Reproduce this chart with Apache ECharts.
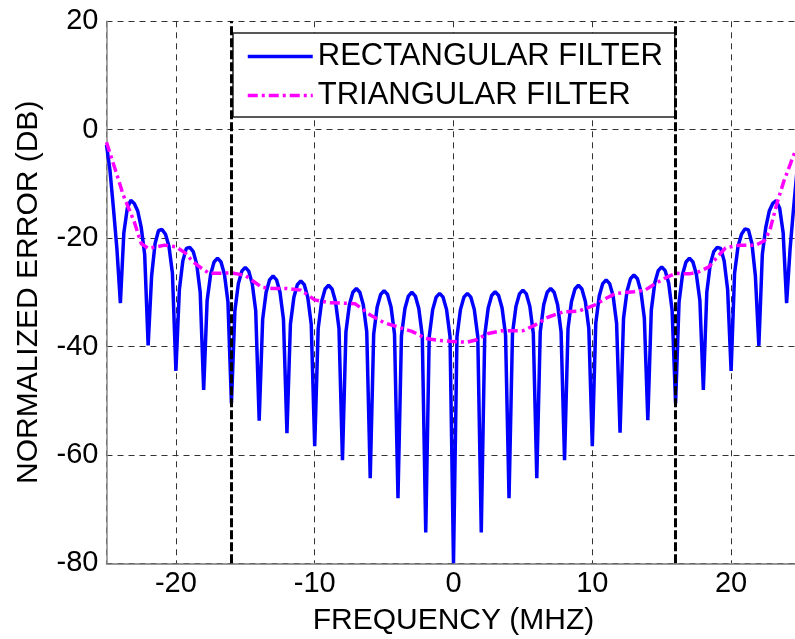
<!DOCTYPE html>
<html>
<head>
<meta charset="utf-8">
<script src="https://cdn.jsdelivr.net/npm/echarts@6/dist/echarts.min.js"></script>
<style>
html,body{margin:0;padding:0;background:#fff;}
#chart{width:795px;height:639px;}
</style>
</head>
<body>
<div id="chart"></div>
<script>
// ---- data ----
const seriesNames = ['RECTANGULAR FILTER', 'TRIANGULAR FILTER'];
const xAxisTitle = 'FREQUENCY (MHZ)';
const yAxisTitle = 'NORMALIZED ERROR (DB)';
const boundaryFreqs = [-16, 16];

// [frequency (MHz), normalized error (dB)]
const rectangularFilter = [
  [-25,-2.8],[-24.75,-7.5],[-24.5,-14.5],[-24.25,-22],[-24,-32],
  [-23.75,-19],[-23.5,-14.5],[-23.25,-13],[-23,-13.6],[-22.75,-15],[-22.5,-18],[-22.25,-23],[-22,-39.8],
  [-21.75,-27],[-21.5,-21],[-21.25,-18.6],[-21,-18.4],[-20.75,-19.3],[-20.5,-21.5],[-20.25,-26.5],[-20,-44.5],
  [-19.75,-29.5],[-19.5,-24.2],[-19.25,-21.9],[-19,-21.7],[-18.75,-22.5],[-18.5,-24.8],[-18.25,-30],[-18,-48],
  [-17.75,-31.5],[-17.5,-26.7],[-17.25,-24.4],[-17,-23.7],[-16.75,-24.4],[-16.5,-26.7],[-16.25,-31.8],[-16,-50.5],
  [-15.75,-33.4],[-15.5,-28.4],[-15.25,-26.1],[-15,-25.4],[-14.75,-26.1],[-14.5,-28.4],[-14.25,-33.4],[-14,-53.7],
  [-13.75,-35],[-13.5,-30],[-13.25,-27.7],[-13,-27],[-12.75,-27.7],[-12.5,-30],[-12.25,-35],[-12,-56],
  [-11.75,-35.9],[-11.5,-30.9],[-11.25,-28.6],[-11,-27.9],[-10.75,-28.6],[-10.5,-30.9],[-10.25,-35.9],[-10,-58.4],
  [-9.75,-36.7],[-9.5,-31.7],[-9.25,-29.4],[-9,-28.7],[-8.75,-29.4],[-8.5,-31.7],[-8.25,-36.7],[-8,-61],
  [-7.75,-37.3],[-7.5,-32.3],[-7.25,-30],[-7,-29.3],[-6.75,-30],[-6.5,-32.3],[-6.25,-37.3],[-6,-64.3],
  [-5.75,-37.7],[-5.5,-32.7],[-5.25,-30.4],[-5,-29.7],[-4.75,-30.4],[-4.5,-32.7],[-4.25,-37.7],[-4,-68],
  [-3.75,-38],[-3.5,-33],[-3.25,-30.7],[-3,-30],[-2.75,-30.7],[-2.5,-33],[-2.25,-38],[-2,-74.3],
  [-1.75,-38.2],[-1.5,-33.2],[-1.25,-30.9],[-1,-30.2],[-0.75,-30.9],[-0.5,-33.2],[-0.25,-38.2],[0,-80],
  [0.25,-38.2],[0.5,-33.2],[0.75,-30.9],[1,-30.2],[1.25,-30.9],[1.5,-33.2],[1.75,-38.2],[2,-74.3],
  [2.25,-37.9],[2.5,-32.9],[2.75,-30.6],[3,-29.9],[3.25,-30.6],[3.5,-32.9],[3.75,-37.9],[4,-68],
  [4.25,-37.6],[4.5,-32.6],[4.75,-30.3],[5,-29.6],[5.25,-30.3],[5.5,-32.6],[5.75,-37.6],[6,-64.3],
  [6.25,-37.3],[6.5,-32.3],[6.75,-30],[7,-29.3],[7.25,-30],[7.5,-32.3],[7.75,-37.3],[8,-61],
  [8.25,-36.7],[8.5,-31.7],[8.75,-29.4],[9,-28.7],[9.25,-29.4],[9.5,-31.7],[9.75,-36.7],[10,-58.4],
  [10.25,-35.7],[10.5,-30.7],[10.75,-28.4],[11,-27.7],[11.25,-28.4],[11.5,-30.7],[11.75,-35.7],[12,-55.9],
  [12.25,-34.8],[12.5,-29.8],[12.75,-27.5],[13,-26.8],[13.25,-27.5],[13.5,-29.8],[13.75,-34.8],[14,-53.6],
  [14.25,-33.3],[14.5,-28.3],[14.75,-26],[15,-25.3],[15.25,-26],[15.5,-28.3],[15.75,-33.3],[16,-50.5],
  [16.25,-31.8],[16.5,-26.7],[16.75,-24.4],[17,-23.7],[17.25,-24.4],[17.5,-26.7],[17.75,-31.5],[18,-48],
  [18.25,-30],[18.5,-24.8],[18.75,-22.5],[19,-21.7],[19.25,-21.9],[19.5,-24.2],[19.75,-29.5],[20,-44.5],
  [20.25,-26.5],[20.5,-21.5],[20.75,-19.3],[21,-18.3],[21.25,-18.5],[21.5,-21],[21.75,-27],[22,-39.9],
  [22.25,-23],[22.5,-18],[22.75,-15],[23,-13.6],[23.25,-13.1],[23.5,-14.5],[23.75,-19],[24,-32],
  [24.25,-22],[24.5,-14.5],[24.75,-7.5],[25,-2.8]
];

const triangularFilter = [
  [-25,-2.3],[-24.6,-5.5],[-24.2,-8.7],[-23.8,-12.0],[-23.4,-14.5],[-23.0,-17.0],[-22.5,-21],[-22.0,-21.9],
  [-21.4,-21.6],[-20.8,-21.3],[-20.0,-21.6],[-19.3,-22.8],[-18.8,-24.3],[-18.3,-25.3],[-17.6,-26.5],[-16.9,-26.5],
  [-16.0,-26.4],[-15.0,-26.9],[-14.4,-28.0],[-13.8,-29.1],[-13.0,-29.3],[-12.0,-29.3],[-11.0,-29.6],[-10.5,-30.5],
  [-10.0,-31.4],[-9.0,-31.9],[-8.0,-32.0],[-7.1,-32.1],[-6.5,-33.2],[-6.0,-34.2],[-5.0,-35.6],[-4.0,-36.4],
  [-3.0,-37.2],[-2.0,-38.5],[-1.0,-38.9],[0,-39.1],[1.0,-39.2],[1.6,-38.8],[2.5,-37.6],[3.5,-37.1],
  [5.0,-37.1],[5.9,-36.0],[6.8,-34.6],[7.9,-33.6],[9.0,-33.5],[10.2,-32.3],[11.0,-31.1],[11.7,-30.2],
  [13.0,-29.9],[13.8,-29.6],[14.6,-28.3],[15.3,-27.3],[16.0,-26.5],[17.0,-26.6],[17.6,-26.3],[18.4,-25.3],
  [19.0,-23.5],[19.6,-21.8],[20.6,-21.3],[21.8,-21.3],[22.4,-20.5],[22.8,-18.5],[23.3,-13.6],[23.8,-9.5],
  [24.6,-4.1],[25,-2.5]
];

const xRange = [-25, 25];
const yRange = [-80, 20];
const yStep = 20;

// ---- chart ----
const FONT = '"Liberation Sans", Arial, sans-serif';
const chart = echarts.init(document.getElementById('chart'), null, {renderer: 'canvas'});
chart.setOption({
  animation: false,
  backgroundColor: '#ffffff',
  grid: {left: 106.5, width: 694, top: 21.3, bottom: 75.7, containLabel: false, outerBoundsMode: 'none'},
  legend: {
    data: seriesNames,
    orient: 'vertical',
    left: 233,
    top: 33,
    itemWidth: 65,
    itemHeight: 12,
    itemGap: 8,
    padding: [8, 12, 6, 13],
    backgroundColor: '#ffffff',
    borderColor: '#222222',
    borderWidth: 1.5,
    borderRadius: 0,
    itemStyle: {opacity: 0},
    lineStyle: {width: 3.5},
    textStyle: {fontFamily: FONT, fontSize: 31, color: '#000'}
  },
  xAxis: {
    type: 'value',
    min: xRange[0],
    max: xRange[1],
    splitNumber: 5,
    name: xAxisTitle,
    nameLocation: 'middle',
    nameGap: 42,
    nameTextStyle: {fontFamily: FONT, fontSize: 30, color: '#000'},
    axisLine: {show: true, onZero: false, lineStyle: {color: '#777', width: 1.5}},
    axisTick: {show: false},
    axisLabel: {fontFamily: FONT, fontSize: 29, color: '#000', margin: 6, showMinLabel: false, showMaxLabel: false},
    splitLine: {show: true, lineStyle: {color: '#333', width: 1, type: [6, 5]}}
  },
  yAxis: {
    type: 'value',
    min: yRange[0],
    max: yRange[1],
    interval: yStep,
    name: yAxisTitle,
    nameLocation: 'middle',
    nameGap: 63,
    nameTextStyle: {fontFamily: FONT, fontSize: 30, color: '#000'},
    axisLine: {show: true, onZero: false, lineStyle: {color: '#888', width: 1.5}},
    axisTick: {show: false},
    axisLabel: {fontFamily: FONT, fontSize: 29, color: '#000', margin: 8},
    splitLine: {show: true, lineStyle: {color: '#333', width: 1, type: [6, 5]}}
  },
  series: [
    {
      name: seriesNames[0],
      type: 'line',
      data: rectangularFilter,
      symbol: 'none',
      smooth: false,
      lineStyle: {color: '#0000ff', width: 3.5},
      itemStyle: {color: '#0000ff'},
      z: 2,
      markLine: {
        silent: true,
        symbol: ['none', 'none'],
        label: {show: false},
        lineStyle: {color: '#000', width: 3, type: [9, 3]},
        data: boundaryFreqs.map(v => ({xAxis: v}))
      }
    },
    {
      name: seriesNames[1],
      type: 'line',
      data: triangularFilter,
      symbol: 'none',
      smooth: false,
      lineStyle: {color: '#ff00ff', width: 3.5, type: [10, 4, 3, 4]},
      itemStyle: {color: '#ff00ff'},
      z: 3
    }
  ]
});
</script>
</body>
</html>
